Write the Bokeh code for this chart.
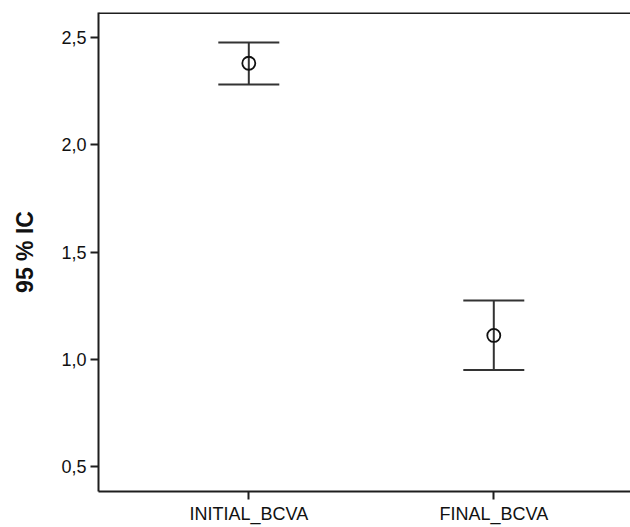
from bokeh.plotting import figure
from bokeh.models import ColumnDataSource, Whisker, TeeHead, FixedTicker, Range1d, Span
from bokeh.embed import file_html
from bokeh.resources import INLINE

# ---- data ----
categories = ["INITIAL_BCVA", "FINAL_BCVA"]
cat_pos = [1, 2]
means = [2.378, 1.112]
upper_ci = [2.474, 1.274]
lower_ci = [2.279, 0.951]
y_ticks = [0.5, 1.0, 1.5, 2.0, 2.5]
y_tick_labels = ["0,5", "1,0", "1,5", "2,0", "2,5"]
y_label = "95 % IC"

FONT = "Liberation Sans"
AX = "#1e1e1e"

src = ColumnDataSource(dict(x=cat_pos, mean=means, upper=upper_ci, lower=lower_ci))

p = figure(width=630, height=527, output_backend="svg", toolbar_location=None,
           x_range=Range1d(0.3865, 2.558), y_range=Range1d(0.386, 2.614),
           min_border_left=98, min_border_right=0, min_border_top=12, min_border_bottom=36)
p.outline_line_color = None
p.grid.grid_line_color = None
p.background_fill_color = "white"

w = Whisker(base="x", upper="upper", lower="lower", source=src, dimension="height",
            line_color="#333333", line_width=2,
            upper_head=TeeHead(size=61, line_color="#333333", line_width=2),
            lower_head=TeeHead(size=61, line_color="#333333", line_width=2))
p.add_layout(w)

p.scatter("x", "mean", source=src, marker="circle", size=13, fill_color=None,
          line_color="#111111", line_width=1.8)

top = Span(location=2.614, dimension="width", line_color=AX, line_width=3)
p.add_layout(top)

# axes
p.xaxis.ticker = FixedTicker(ticks=cat_pos)
p.xaxis.major_label_overrides = {c: l for c, l in zip(cat_pos, categories)}
p.yaxis.ticker = FixedTicker(ticks=y_ticks)
p.yaxis.major_label_overrides = {t: l for t, l in zip(y_ticks, y_tick_labels)}
for ax in (p.xaxis[0], p.yaxis[0]):
    ax.axis_line_color = AX
    ax.axis_line_width = 2
    ax.major_tick_line_color = AX
    ax.major_tick_line_width = 2
    ax.major_tick_in = 0
    ax.major_tick_out = 8
    ax.minor_tick_line_color = None
    ax.major_label_text_font = FONT
    ax.major_label_text_font_size = "18px"
    ax.major_label_text_color = "#111111"
    ax.major_label_standoff = 4
p.yaxis.axis_label = y_label
p.yaxis.axis_label_text_font = FONT
p.yaxis.axis_label_text_font_size = "23px"
p.yaxis.axis_label_text_font_style = "bold"
p.yaxis.axis_label_text_color = "#111111"
p.yaxis.axis_label_standoff = 20

open("out.html", "w").write(file_html(p, INLINE))
